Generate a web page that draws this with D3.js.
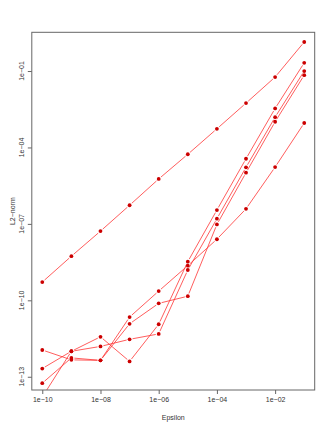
<!DOCTYPE html>
<html>
<head>
<meta charset="utf-8">
<script src="https://cdn.jsdelivr.net/npm/d3@7"></script>
<style>
  html, body { margin: 0; padding: 0; background: #fff; }
  text { font-family: "Liberation Sans", Arial, sans-serif; fill: #333; }
</style>
</head>
<body>
<div id="chart"></div>
<script>
// epsilon values on the x axis
var epsilon = [1e-10, 1e-9, 1e-8, 1e-7, 1e-6, 1e-5, 1e-4, 1e-3, 1e-2, 1e-1];

// L2-norm for each run
var run1 = [5.2e-10, 5.4e-9, 5.2e-8, 5.4e-7, 5.8e-6, 5.4e-5, 5.4e-4, 5.5e-3, 5.8e-2, 1.38];
var run2 = [2.1e-13, 1.0e-12, 3.7e-12, 4.0e-13, 1.15e-11, 3.3e-9, 3.5e-7, 3.6e-5, 3.4e-3, 0.21];
var run3 = [1.6e-14, 1.0e-12, 1.55e-12, 2.95e-12, 4.8e-12, 1.55e-9, 1.6e-7, 1.66e-5, 1.55e-3, 0.1];
var run4 = [1.12e-12, 4.6e-13, 4.4e-13, 1.2e-11, 7.6e-11, 1.45e-10, 9.5e-8, 1.02e-5, 1.02e-3, 6.9e-2];
var run5 = [5.6e-14, 5.5e-13, 4.4e-13, 2.2e-11, 2.3e-10, 2.3e-9, 2.5e-8, 3.9e-7, 1.7e-5, 9.1e-4];

var runs = [run1, run2, run3, run4, run5];

var x_ticks = [1e-10, 1e-8, 1e-6, 1e-4, 1e-2];
var x_tick_labels = ['1e\u221210', '1e\u221208', '1e\u221206', '1e\u221204', '1e\u221202'];
var y_ticks = [1e-13, 1e-10, 1e-7, 1e-4, 1e-1];
var y_tick_labels = ['1e\u221213', '1e\u221210', '1e\u221207', '1e\u221204', '1e\u221201'];

var width = 332, height = 430;
var plot = { left: 31.8, right: 314.7, top: 32.3, bottom: 390 };

var svg = d3.select('#chart')
    .append('svg')
    .attr('width', width)
    .attr('height', height);

// R style log axes, 4% padding round the limits
var x = d3.scaleLog()
    .domain([Math.pow(10, -10.36), Math.pow(10, -0.64)])
    .range([plot.left, plot.right]);

var y = d3.scaleLog()
    .domain([Math.pow(10, -13.52), Math.pow(10, 0.52)])
    .range([plot.bottom, plot.top]);

svg.append('clipPath')
    .attr('id', 'plot_clip')
    .append('rect')
    .attr('x', plot.left)
    .attr('y', plot.top)
    .attr('width', plot.right - plot.left)
    .attr('height', plot.bottom - plot.top);

var data_group = svg.append('g').attr('clip-path', 'url(#plot_clip)');

var gap = 3; // type="b" leaves a gap round each point

runs.forEach(function(run) {
    var pts = run.map(function(v, i) { return [x(epsilon[i]), y(v)]; });

    for (var i = 0; i < pts.length - 1; i++) {
        var p0 = pts[i], p1 = pts[i + 1];
        var dx = p1[0] - p0[0], dy = p1[1] - p0[1];
        var len = Math.sqrt(dx * dx + dy * dy);
        if (len <= 2 * gap) continue;
        var ux = dx / len, uy = dy / len;
        data_group.append('line')
            .attr('x1', p0[0] + ux * gap)
            .attr('y1', p0[1] + uy * gap)
            .attr('x2', p1[0] - ux * gap)
            .attr('y2', p1[1] - uy * gap)
            .attr('stroke', '#ff3333')
            .attr('stroke-width', 0.8);
    }

    data_group.selectAll(null)
        .data(pts)
        .enter()
        .append('circle')
        .attr('cx', function(d) { return d[0]; })
        .attr('cy', function(d) { return d[1]; })
        .attr('r', 1.9)
        .attr('fill', '#cc0000');
});

// box
svg.append('rect')
    .attr('x', plot.left)
    .attr('y', plot.top)
    .attr('width', plot.right - plot.left)
    .attr('height', plot.bottom - plot.top)
    .attr('fill', 'none')
    .attr('stroke', '#666')
    .attr('stroke-width', 1);

// x axis
var x_axis = svg.append('g')
    .attr('transform', `translate(0, ${plot.bottom})`)
    .call(d3.axisBottom(x)
        .tickValues(x_ticks)
        .tickFormat(function(d, i) { return x_tick_labels[i]; })
        .tickSize(4)
        .tickPadding(3));
x_axis.select('.domain').remove();
x_axis.selectAll('line').attr('stroke', '#666');
x_axis.selectAll('text')
    .style('font-family', '"Liberation Sans", Arial, sans-serif')
    .style('font-size', '7px')
    .attr('fill', '#333');

// y axis, labels turned like R does
var y_axis = svg.append('g')
    .attr('transform', `translate(${plot.left}, 0)`)
    .call(d3.axisLeft(y)
        .tickValues(y_ticks)
        .tickFormat('')
        .tickSize(4));
y_axis.select('.domain').remove();
y_axis.selectAll('line').attr('stroke', '#666');

svg.selectAll('.y_label')
    .data(y_ticks)
    .enter()
    .append('text')
    .attr('class', 'y_label')
    .attr('transform', function(d) { return `translate(23.5, ${y(d)}) rotate(-90)`; })
    .attr('text-anchor', 'middle')
    .style('font-size', '7px')
    .text(function(d, i) { return y_tick_labels[i]; });

// axis titles
svg.append('text')
    .attr('x', (plot.left + plot.right) / 2)
    .attr('y', 419.5)
    .attr('text-anchor', 'middle')
    .style('font-size', '7px')
    .text('Epsilon');

svg.append('text')
    .attr('transform', `translate(15, ${(plot.top + plot.bottom) / 2}) rotate(-90)`)
    .attr('text-anchor', 'middle')
    .style('font-size', '7px')
    .text('L2\u2212norm');
</script>
</body>
</html>
